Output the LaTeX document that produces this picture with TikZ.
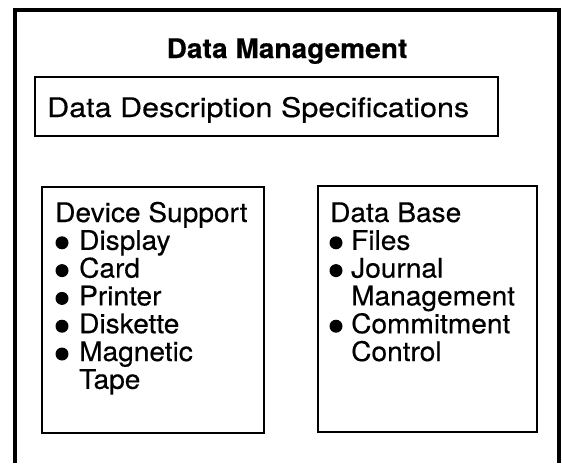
\documentclass[tikz,border=0pt]{standalone}
\usepackage{fontspec}
\setmainfont{TeX Gyre Heros}[FakeStretch=1.04, FakeBold=0.4]

\begin{document}
\begin{tikzpicture}[x=1pt, y=-1pt,
    frame/.style={line width=1.7pt},
    txt/.style={anchor=base west, inner sep=0pt},
    dot/.style={circle, fill, inner sep=0pt, minimum size=13pt}]

  \fontsize{27}{28}\selectfont

  \newcommand\XL{15}
  \newcommand\XR{559}
  \newcommand\YT{10}

  \newcommand\YH{222}
  \newcommand\YS{27.8}
  \newcommand\YD{7}

  \newcommand\XA{55}
  \newcommand\XB{62}
  \newcommand\XC{79}
  \newcommand\XD{330}
  \newcommand\XE{336}
  \newcommand\XF{351}

  \useasboundingbox (0,0) rectangle (562,463);

  % outer frame, open at the bottom
  \draw[line width=3.5pt] (\XL,463) -- (\XL,\YT) -- (\XR,\YT) -- (\XR,463);

  \node[anchor=base, inner sep=0pt, font=\bfseries] (title) at (287,58)
  {Data Management};

  \draw[frame] (35,77) rectangle (498,136);
  \node[txt, font=\addfontfeature{FakeStretch=1.13}] (dds) at (47,117)
  {Data Description Specifications};

  % device support
  \draw[frame] (42,187) rectangle (264,433);
  \node[txt] (dev) at (\XA, \YH) {Device Support};
  \node[dot] (devdisplay) at (\XB, \YH + 1*\YS - \YD) {};
  \node[txt] (display) at (\XC, \YH + 1*\YS) {Display};
  \node[dot] (devcard) at (\XB, \YH + 2*\YS - \YD) {};
  \node[txt] (card) at (\XC, \YH + 2*\YS) {Card};
  \node[dot] (devprinter) at (\XB, \YH + 3*\YS - \YD) {};
  \node[txt] (printer) at (\XC, \YH + 3*\YS) {Printer};
  \node[dot] (devdiskette) at (\XB, \YH + 4*\YS - \YD) {};
  \node[txt] (diskette) at (\XC, \YH + 4*\YS) {Diskette};
  \node[dot] (devtape) at (\XB, \YH + 5*\YS - \YD) {};
  \node[txt] (magnetic) at (\XC, \YH + 5*\YS) {Magnetic};
  \node[txt] (tape) at (\XC, \YH + 6*\YS) {Tape};

  % data base
  \draw[frame] (318,186) rectangle (537,432);
  \node[txt] (db) at (\XD, \YH) {Data Base};
  \node[dot] (dbfiles) at (\XE, \YH + 1*\YS - \YD) {};
  \node[txt] (files) at (\XF, \YH + 1*\YS) {Files};
  \node[dot] (dbjournal) at (\XE, \YH + 2*\YS - \YD) {};
  \node[txt] (journal) at (\XF, \YH + 2*\YS) {Journal};
  \node[txt] (jmgmt) at (\XF, \YH + 3*\YS) {Management};
  \node[dot] (dbcommit) at (\XE, \YH + 4*\YS - \YD) {};
  \node[txt] (commit) at (\XF, \YH + 4*\YS) {Commitment};
  \node[txt] (control) at (\XF, \YH + 5*\YS) {Control};

\end{tikzpicture}
\end{document}
